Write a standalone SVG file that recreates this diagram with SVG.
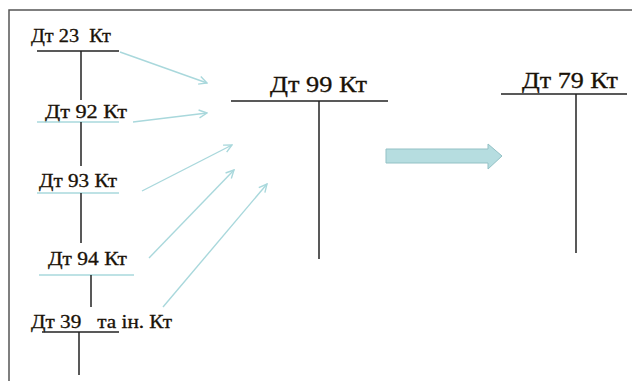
<svg xmlns="http://www.w3.org/2000/svg" width="632" height="381" viewBox="0 0 632 381">
<defs>
<style>
.lbl{font-family:"Liberation Serif","Times New Roman",serif;fill:#1a1208;stroke:#1a1208;stroke-width:0.3;white-space:pre;}
.s{font-size:18px;}
.b{font-size:23px;}
.blk{stroke:#222;stroke-width:1.5;fill:none;}
.teal{stroke:#a9d8dc;stroke-width:1.4;fill:none;}
.frame{stroke:#555;stroke-width:1.5;fill:none;}
</style>
<marker id="ah" viewBox="0 0 10 10" refX="9" refY="5" markerWidth="10" markerHeight="10" markerUnits="userSpaceOnUse" orient="auto">
<path d="M1,1 L9,5 L1,9" fill="none" stroke="#a9d8dc" stroke-width="1.4"/>
</marker>
</defs>
<rect width="632" height="381" fill="#fff"/>
<path class="frame" d="M9,381 V10 H632"/>

<g id="acc23">
<text class="lbl s" x="31" y="42" textLength="80" lengthAdjust="spacingAndGlyphs" xml:space="preserve">Дт 23  Кт</text>
<line class="blk" x1="37" y1="51" x2="119" y2="51"/>
<line class="blk" x1="81" y1="51" x2="81" y2="100"/>
</g>
<g id="acc92">
<text class="lbl s" x="45" y="118" textLength="82" lengthAdjust="spacingAndGlyphs">Дт 92 Кт</text>
<line class="teal" x1="37" y1="122" x2="119" y2="122"/>
<line class="blk" x1="81" y1="122" x2="81" y2="166"/>
</g>
<g id="acc93">
<text class="lbl s" x="39" y="187" textLength="78" lengthAdjust="spacingAndGlyphs">Дт 93 Кт</text>
<line class="teal" x1="37" y1="193" x2="119" y2="193"/>
<line class="blk" x1="81" y1="193" x2="81" y2="243"/>
</g>
<g id="acc94">
<text class="lbl s" x="48" y="265" textLength="79" lengthAdjust="spacingAndGlyphs">Дт 94 Кт</text>
<line class="teal" x1="39" y1="275" x2="134" y2="275"/>
<line class="blk" x1="91" y1="275" x2="91" y2="307"/>
</g>
<g id="acc39">
<text class="lbl s" x="31" y="328" textLength="141" lengthAdjust="spacingAndGlyphs" xml:space="preserve">Дт 39   та ін. Кт</text>
<line class="blk" x1="42" y1="332" x2="119" y2="332"/>
<line class="blk" x1="79" y1="332" x2="79" y2="375"/>
</g>
<g id="acc99">
<text class="lbl b" x="270" y="92" textLength="97" lengthAdjust="spacingAndGlyphs">Дт 99 Кт</text>
<line class="blk" x1="231" y1="101" x2="388" y2="101"/>
<line class="blk" x1="319" y1="101" x2="319" y2="259"/>
</g>
<g id="acc79">
<text class="lbl b" x="522" y="88" textLength="96" lengthAdjust="spacingAndGlyphs">Дт 79 Кт</text>
<line class="blk" x1="501" y1="94" x2="627" y2="94"/>
<line class="blk" x1="576" y1="94" x2="576" y2="253"/>
</g>

<g id="connectors">
<line class="teal" x1="120" y1="52" x2="207" y2="83" marker-end="url(#ah)"/>
<line class="teal" x1="133" y1="122" x2="207" y2="113" marker-end="url(#ah)"/>
<line class="teal" x1="142" y1="191" x2="232" y2="145" marker-end="url(#ah)"/>
<line class="teal" x1="149" y1="258" x2="234" y2="170" marker-end="url(#ah)"/>
<line class="teal" x1="163" y1="307" x2="267" y2="184" marker-end="url(#ah)"/>
<path d="M386,149 H488 V144 L502,156 L488,169 V163 H386 Z" fill="#b6dde0" stroke="#93c1c5" stroke-width="1"/>
</g>
</svg>
